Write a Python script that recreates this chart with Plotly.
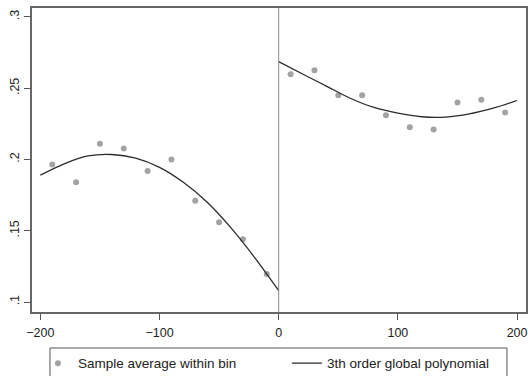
import plotly.graph_objects as go

# Bin averages
bin_x_left = [-190, -170, -150, -130, -110, -90, -70, -50, -30, -10]
bin_y_left = [0.1965, 0.184, 0.211, 0.2077, 0.192, 0.200, 0.171, 0.156, 0.144, 0.1196]
bin_x_right = [10, 30, 50, 70, 90, 110, 130, 150, 170, 190]
bin_y_right = [0.2598, 0.2626, 0.245, 0.245, 0.231, 0.2227, 0.221, 0.240, 0.242, 0.233]

# Fitted polynomial
fit_x_left = [-200, -180, -160, -140, -120, -100, -80, -60, -40, -20, 0]
fit_y_left = [0.189, 0.197, 0.2025, 0.2035, 0.201, 0.1945, 0.184, 0.170, 0.152, 0.131, 0.108]
fit_x_right = [0, 20, 40, 60, 80, 100, 120, 140, 160, 180, 200]
fit_y_right = [0.2687, 0.2600, 0.2515, 0.2430, 0.2365, 0.2325, 0.2300, 0.2298, 0.2320, 0.2360, 0.2414]

x_ticks = [-200, -100, 0, 100, 200]
y_ticks = [0.1, 0.15, 0.2, 0.25, 0.3]
y_ticktext = [".1", ".15", ".2", ".25", ".3"]

FONT = "Liberation Sans, Arial, sans-serif"
fig = go.Figure()

fig.add_trace(go.Scatter(
    x=bin_x_left + bin_x_right, y=bin_y_left + bin_y_right,
    mode="markers", name="Sample average within bin", legend="legend",
    marker=dict(color="#a3a3a3", size=6),
))
fig.add_trace(go.Scatter(
    x=fit_x_left, y=fit_y_left, mode="lines", name="3th order global polynomial",
    legend="legend2",
    line=dict(color="#2b2b2b", width=1.3, shape="spline"),
))
fig.add_trace(go.Scatter(
    x=fit_x_right, y=fit_y_right, mode="lines", showlegend=False,
    line=dict(color="#2b2b2b", width=1.3, shape="spline"),
))

fig.add_vline(x=0, line=dict(color="#8a8a8a", width=1))

# legend frame enclosing both legend entries
fig.add_shape(type="rect", xref="paper", yref="paper",
              x0=0.0364, x1=0.9615, y0=-0.1184, y1=-0.3,
              line=dict(color="#555555", width=1), fillcolor="rgba(0,0,0,0)")

leg_common = dict(
    orientation="h", xanchor="left", y=-0.118, yanchor="top",
    borderwidth=0, bgcolor="rgba(0,0,0,0)",
    font=dict(size=13.5, family=FONT, color="#222222"),
    itemwidth=30,
)

fig.update_layout(
    width=528, height=376,
    margin=dict(l=32, r=2, t=8, b=64, autoexpand=False),
    paper_bgcolor="white", plot_bgcolor="white",
    font=dict(family=FONT, color="#222222", size=12),
    showlegend=True,
    legend=dict(x=0.012, **leg_common),
    legend2=dict(x=0.516, **leg_common),
)
fig.update_xaxes(
    range=[-207, 207.5], tickvals=x_ticks, ticks="outside", ticklen=6,
    ticklabelstandoff=2,
    tickcolor="#555555", showgrid=False, zeroline=False,
    showline=True, linecolor="#666666", linewidth=1.5, mirror=True,
    tickfont=dict(size=12.5, family=FONT, color="#222222"),
)
fig.update_yaxes(
    range=[0.093, 0.3063], tickvals=y_ticks, ticktext=y_ticktext,
    ticks="outside", ticklen=6, tickangle=-90,
    tickcolor="#555555", showgrid=False, zeroline=False,
    showline=True, linecolor="#666666", linewidth=1.5, mirror=True,
    tickfont=dict(size=12.5, family=FONT, color="#222222"),
)

fig.write_html("out.html")
